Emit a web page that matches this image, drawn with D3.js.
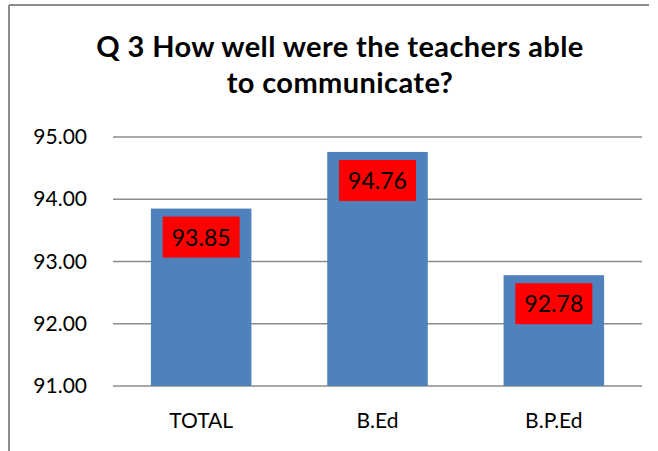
<!DOCTYPE html>
<head>
    <title> Q3 communicate </title>
</head>
<style>
    body { margin: 0; background: #fff; }
    .grid line { stroke: #8c8c8c; stroke-width: 1.5px; }
    .axis text { font-family: Lato, "Open Sans", sans-serif; font-size: 21px; fill: #000; }
    .title { font-family: Lato, "Open Sans", sans-serif; font-size: 29px; font-weight: bold; letter-spacing: 0.4px; fill: #000; }
    .value-label { font-family: Lato, "Open Sans", sans-serif; font-size: 23px; fill: #000; }
</style>
<body>
<script src="https://d3js.org/d3.v7.min.js"></script>
<script>
var categories = ["TOTAL", "B.Ed", "B.P.Ed"];
var values = [93.85, 94.76, 92.78];
var yTicks = [91, 92, 93, 94, 95];
var titleLines = ["Q 3 How well were the teachers able", "to communicate?"];

var width = 658,
    height = 451;

var svg = d3.select("body")
            .append("svg")
            .attr("width", width)
            .attr("height", height);

// chart frame (only top and left edges show in the picture)
svg.append("line")
    .attr("x1", 9).attr("x2", 649).attr("y1", 5).attr("y2", 5)
    .style("stroke", "#8c8c8c").style("stroke-width", 2);
svg.append("line")
    .attr("x1", 9).attr("x2", 9).attr("y1", 5).attr("y2", height)
    .style("stroke", "#8c8c8c").style("stroke-width", 2);

// title
svg.selectAll(".title")
    .data(titleLines)
    .enter()
    .append("text")
    .attr("class", "title")
    .attr("x", 340)
    .attr("y", function(d, i){ return 57 + i * 36; })
    .attr("text-anchor", "middle")
    .text(function(d){ return d; });

var x = d3.scaleBand()
            .domain(categories)
            .range([113, 642])
            .paddingInner(0.43)
            .paddingOuter(0.215);

var y = d3.scaleLinear()
            .domain([91, 95])
            .range([386, 137]);

// gridlines
svg.append("g")
    .attr("class", "grid")
    .selectAll("line")
    .data(yTicks)
    .enter()
    .append("line")
    .attr("x1", 113)
    .attr("x2", 642)
    .attr("y1", function(d){ return y(d); })
    .attr("y2", function(d){ return y(d); });

// y axis labels
var yAxis = d3.axisLeft(y)
                .tickValues(yTicks)
                .tickFormat(d3.format(".2f"))
                .tickSize(0)
                .tickPadding(0);

svg.append("g")
    .attr("class", "axis")
    .attr("transform", "translate(87,0)")
    .call(yAxis)
    .call(function(g){ g.select(".domain").remove(); });

// x axis labels
var xAxis = d3.axisBottom(x)
                .tickSize(0)
                .tickPadding(0);

svg.append("g")
    .attr("class", "axis")
    .attr("transform", "translate(0,413)")
    .call(xAxis)
    .call(function(g){ g.select(".domain").remove(); });

// bars
svg.selectAll(".bar")
    .data(values)
    .enter()
    .append("rect")
    .attr("class", "bar")
    .attr("x", function(d, i){ return x(categories[i]); })
    .attr("width", x.bandwidth())
    .attr("y", function(d){ return y(d); })
    .attr("height", function(d){ return y(91) - y(d); })
    .style("fill", "#4f81bd");

// value labels with red boxes
var labels = svg.selectAll(".value")
    .data(values)
    .enter()
    .append("g")
    .attr("class", "value")
    .attr("transform", function(d, i){
        return "translate(" + (x(categories[i]) + x.bandwidth() / 2) + "," + (y(d) + 8) + ")";
    });

labels.append("rect")
    .attr("x", -38.5)
    .attr("y", 0)
    .attr("width", 77)
    .attr("height", 41)
    .style("fill", "#ff0000");

labels.append("text")
    .attr("class", "value-label")
    .attr("x", 0)
    .attr("y", 29)
    .attr("text-anchor", "middle")
    .text(function(d){ return d3.format(".2f")(d); });
</script>
</body>
